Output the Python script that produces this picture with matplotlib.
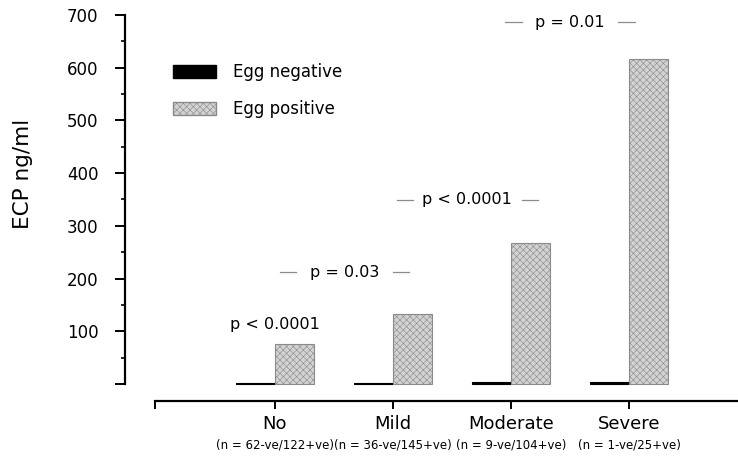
import numpy as np
import matplotlib
matplotlib.use("Agg")
import matplotlib.pyplot as plt
from matplotlib.patches import Patch

plt.rcParams['font.family'] = ['DejaVu Sans']
plt.rcParams['hatch.linewidth'] = 0.4

# === data
categories = ["No", "Mild", "Moderate", "Severe"]
n_labels = ["(n = 62-ve/122+ve)", "(n = 36-ve/145+ve)", "(n = 9-ve/104+ve)", "(n = 1-ve/25+ve)"]
egg_negative = [2, 2, 4, 3]
egg_positive = [76, 133, 268, 617]
y_ticks = [0, 100, 200, 300, 400, 500, 600, 700]
y_tick_labels = ["", "100", "200", "300", "400", "500", "600", "700"]

# p-value notes: text, centre x, y, gap to the side dashes (0 = no dashes)
p_texts = ["p < 0.0001", "p = 0.03", "p < 0.0001", "p = 0.01"]
p_x = [0.0, 0.59, 1.63, 2.50]
p_y = [112, 212, 349, 686]
p_gap = [0, 0.41, 0.46, 0.41]

fig = plt.figure(figsize=(7.38, 4.59), dpi=100)
ax = fig.add_axes([125 / 738, 54 / 459, 613 / 738, 390 / 459])

x = np.arange(len(categories))
w = 0.33
ax.bar(x - w / 2, egg_negative, w, color="black", edgecolor="black", linewidth=0.8)
ax.bar(x + w / 2, egg_positive, w, color="#d2d2d2", edgecolor="#8a8a8a",
       hatch="xxxxx", linewidth=0.8)

ax.set_xlim(-1.271, 3.924)
ax.set_ylim(-40, 700)

# === spines
for s in ["top", "right"]:
    ax.spines[s].set_visible(False)
ax.spines["left"].set_bounds(0, 700)
ax.spines["left"].set_linewidth(1.6)
ax.spines["bottom"].set_position(("data", -32))
ax.spines["bottom"].set_bounds(-1.02, 3.924)
ax.spines["bottom"].set_linewidth(1.6)

# === ticks
ax.set_yticks(y_ticks)
ax.set_yticklabels(y_tick_labels, fontsize=12)
ax.set_yticks(np.arange(50, 700, 100), minor=True)
ax.tick_params(axis="y", which="major", length=7, width=1.4, pad=12)
ax.tick_params(axis="y", which="minor", length=3, width=1.2)

ax.set_xticks([-1.02] + list(x))
ax.set_xticklabels([""] + categories, fontsize=13)
ax.tick_params(axis="x", length=6, width=1.4, pad=4)

for xi, lab in zip(x, n_labels):
    ax.annotate(lab, (xi, -32), xytext=(0, -32), textcoords="offset points",
                ha="center", va="center", fontsize=8.5)

ax.set_ylabel("ECP ng/ml", fontsize=15.5)
ax.yaxis.set_label_coords(-0.150, 0.592)

# === p values
for txt, px, py, gap in zip(p_texts, p_x, p_y, p_gap):
    ax.text(px, py, txt, ha="center", va="center", fontsize=11.5)
    if gap:
        ax.plot([px - gap - 0.14, px - gap], [py, py], color="#8c8c8c", lw=0.9)
        ax.plot([px + gap, px + gap + 0.14], [py, py], color="#8c8c8c", lw=0.9)

# === legend
handles = [Patch(facecolor="black", edgecolor="black", label="Egg negative"),
           Patch(facecolor="#d2d2d2", edgecolor="#8a8a8a", hatch="xxxxx", label="Egg positive")]
fig.legend(handles=handles, loc="upper left", bbox_to_anchor=(173 / 738, 1 - 63 / 459),
           frameon=False, fontsize=12, handlelength=2.6, handleheight=0.8,
           labelspacing=1.15, handletextpad=1.0, borderpad=0, borderaxespad=0)

fig.savefig("out.png", dpi=100)
